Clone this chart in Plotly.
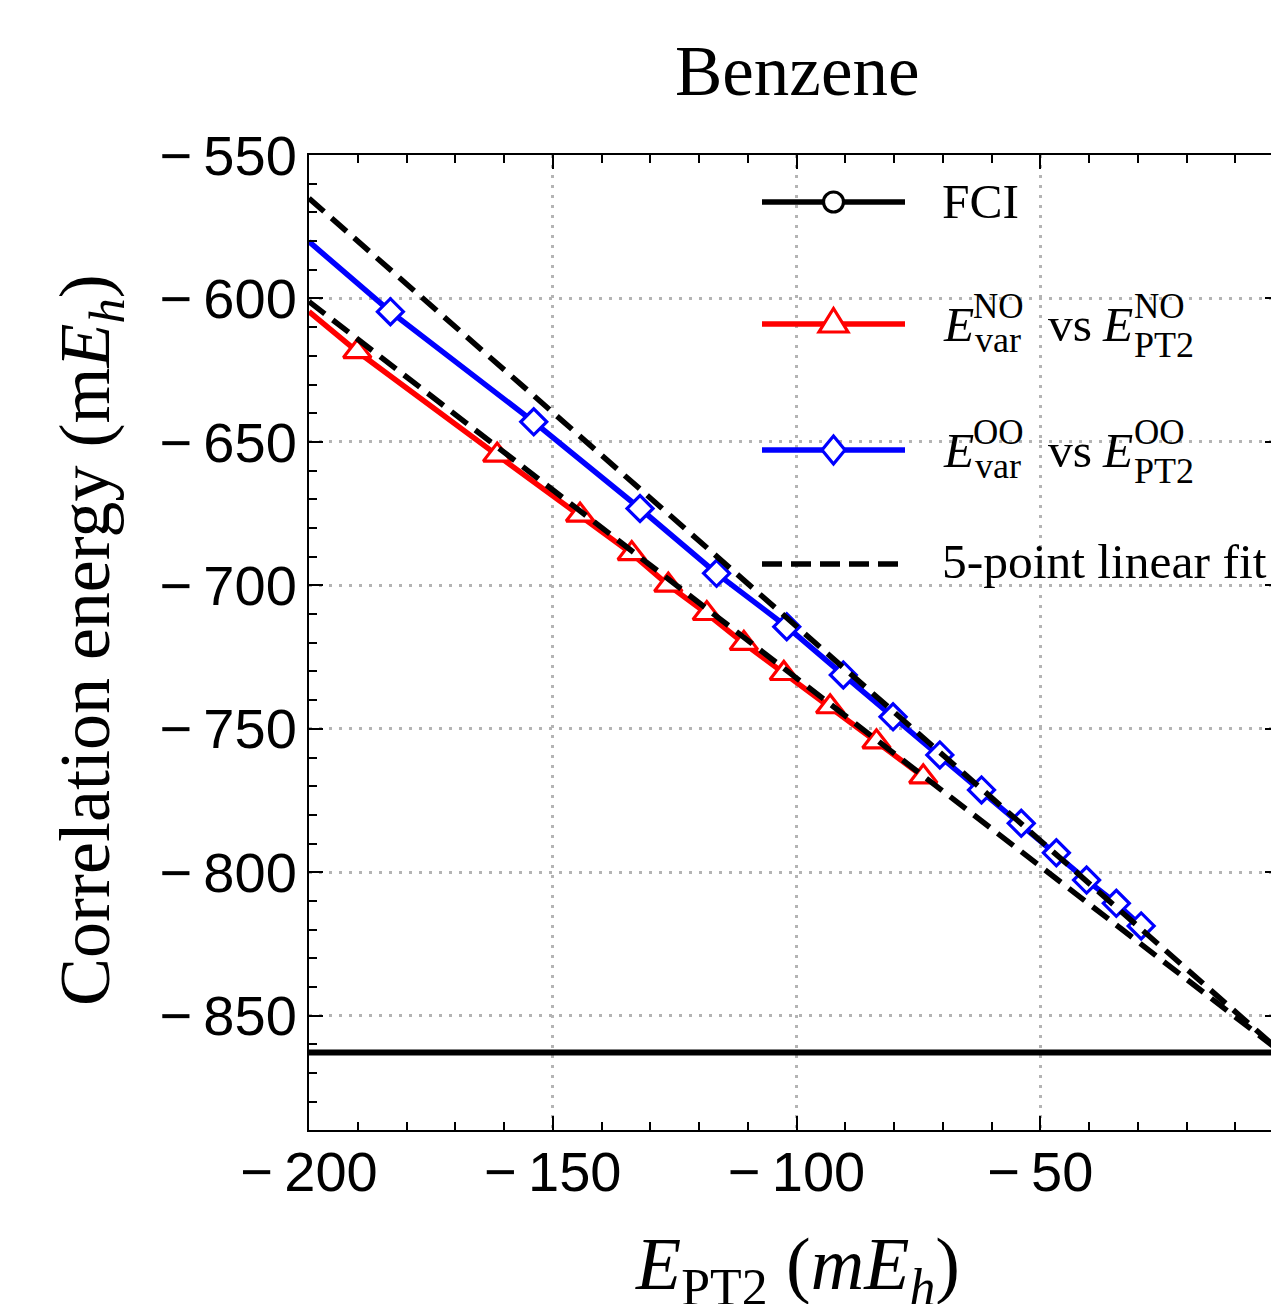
import plotly.graph_objects as go

# ---------------- data ----------------
# E_var^NO vs E_PT2^NO  (first entry = where the line enters the frame at x=-200)
no_x = [-200.0, -190.1, -161.4, -144.4, -133.8, -126.3, -118.4, -110.8, -102.6, -93.1, -83.6, -74.0]
no_y = [-604.6, -618.5, -654.6, -675.5, -688.9, -699.9, -709.8, -720.2, -730.7, -742.3, -754.5, -766.7]

# E_var^OO vs E_PT2^OO
oo_x = [-200.0, -183.3, -153.9, -132.1, -116.4, -102.0, -90.4, -80.2, -70.6, -62.05, -53.9, -46.7, -40.5, -34.4, -29.3]
oo_y = [-580.2, -604.6, -643.0, -673.2, -695.8, -714.4, -731.2, -745.8, -759.1, -771.3, -782.9, -793.2, -802.7, -810.8, -818.7]

# 5-point linear fits (end points)
fit_x = [-200.0, 0.0]
fit_no_y = [-601.1, -863.5]
fit_oo_y = [-565.1, -863.5]

# FCI reference energy
fci_x = [-200.0, 0.0]
fci_y = [-862.8, -862.8]

x_tick_vals = [-200, -150, -100, -50]
x_tick_text = ["\u2212\u2009200", "\u2212\u2009150", "\u2212\u2009100", "\u2212\u200950"]
x_edge_tick_text = "0"
y_tick_vals = [-850, -800, -750, -700, -650, -600, -550]
y_tick_text = ["\u2212\u2009850", "\u2212\u2009800", "\u2212\u2009750", "\u2212\u2009700",
               "\u2212\u2009650", "\u2212\u2009600", "\u2212\u2009550"]

# ---------------- layout geometry ----------------
OFF = 8                                 # page body margin
W, H = 1279 - OFF, 1312 - 2 * OFF       # keep the page inside the window
L, R, T, B = 301, W, 147, 1122          # plot area in figure pixels (right edge = window edge)
X_RANGE = [-200, -1.03]                 # the frame is cropped just before x = 0


def px(xs):  # screen x -> paper
    return (xs - OFF - L) / (R - L)


def py(ys):  # screen y -> paper
    return (B - (ys - OFF)) / (B - T)


SERIF = "Liberation Serif, Times New Roman, serif"
SANS = "Liberation Sans, Arial, sans-serif"

fig = go.Figure()

fig.add_trace(go.Scatter(
    x=no_x, y=no_y, mode="lines+markers",
    line=dict(color="#ff0000", width=5.5),
    marker=dict(symbol="triangle-up", size=24, color="white",
                opacity=[0] + [1] * (len(no_x) - 1),
                line=dict(color="#ff0000", width=3.2)),
    showlegend=False))

fig.add_trace(go.Scatter(
    x=oo_x, y=oo_y, mode="lines+markers",
    line=dict(color="#0000ff", width=5.5),
    marker=dict(symbol="diamond", size=20, color="white",
                opacity=[0] + [1] * (len(oo_x) - 1),
                line=dict(color="#0000ff", width=3.2)),
    showlegend=False))

for fy in (fit_no_y, fit_oo_y):
    fig.add_trace(go.Scatter(
        x=fit_x, y=fy, mode="lines",
        line=dict(color="black", width=5.5, dash="20px,10px"),
        showlegend=False))

fig.add_trace(go.Scatter(
    x=fci_x, y=fci_y, mode="lines",
    line=dict(color="black", width=6),
    showlegend=False))

# ---------------- manual legend ----------------
shapes = []
annotations = []

rows = [202, 324, 450, 564]
lx0, lx1, mx = 762, 905, 833.5
shapes.append(dict(type="line", xref="paper", yref="paper", x0=px(lx0), x1=px(lx1),
                   y0=py(rows[0]), y1=py(rows[0]), line=dict(color="black", width=5.5)))
shapes.append(dict(type="circle", xref="paper", yref="paper", xsizemode="pixel", ysizemode="pixel",
                   xanchor=px(mx), yanchor=py(rows[0]), x0=-10, x1=10, y0=-10, y1=10,
                   fillcolor="white", line=dict(color="black", width=3.2)))
shapes.append(dict(type="line", xref="paper", yref="paper", x0=px(lx0), x1=px(lx1),
                   y0=py(rows[1]), y1=py(rows[1]), line=dict(color="#ff0000", width=5.5)))
shapes.append(dict(type="path", xref="paper", yref="paper", xsizemode="pixel", ysizemode="pixel",
                   xanchor=px(mx), yanchor=py(rows[1]), path="M -14.5 -8 L 14.5 -8 L 0 15.5 Z",
                   fillcolor="white", line=dict(color="#ff0000", width=3.2)))
shapes.append(dict(type="line", xref="paper", yref="paper", x0=px(lx0), x1=px(lx1),
                   y0=py(rows[2]), y1=py(rows[2]), line=dict(color="#0000ff", width=5.5)))
shapes.append(dict(type="path", xref="paper", yref="paper", xsizemode="pixel", ysizemode="pixel",
                   xanchor=px(mx), yanchor=py(rows[2]), path="M 0 14 L 11.5 0 L 0 -14 L -11.5 0 Z",
                   fillcolor="white", line=dict(color="#0000ff", width=3.2)))
shapes.append(dict(type="line", xref="paper", yref="paper", x0=px(lx0), x1=px(898),
                   y0=py(rows[3]), y1=py(rows[3]), line=dict(color="black", width=5.5, dash="20px,9px")))


def txt(x, baseline, text, size, anchor="left", family=SERIF, angle=0):
    cy = baseline - 0.3375 * size
    annotations.append(dict(x=px(x), y=py(cy), xref="paper", yref="paper", text=text,
                            showarrow=False, xanchor=anchor, yanchor="middle",
                            font=dict(family=family, size=size, color="black"),
                            textangle=angle, borderpad=0))


FS = 49.5
txt(941, 218.5, "FCI", FS)
for dy, lab in ((0, "NO"), (126, "OO")):
    txt(942, 341.7 + dy, "<i>E</i>", FS)
    txt(972, 318.5 + dy, lab, 35)
    txt(974, 352 + dy, "var", 36)
    txt(1047, 341.7 + dy, "vs", FS)
    txt(1101, 341.7 + dy, "<i>E</i>", FS)
    txt(1133, 318.5 + dy, lab, 35)
    txt(1133, 357 + dy, "PT2", 36)
txt(941, 578, "5-point linear fit", FS)

# title
txt(796.5, 95, "Benzene", 71, anchor="center")

# x-axis title
annotations.append(dict(x=px(797), y=py(1269), xref="paper", yref="paper",
                        text="<i>E</i><sub>PT2</sub> (<i>mE</i><sub><i>h</i></sub>)",
                        showarrow=False, xanchor="center", yanchor="middle",
                        font=dict(family=SERIF, size=74, color="black")))
# y-axis title
annotations.append(dict(x=px(90), y=py(640), xref="paper", yref="paper",
                        text="Correlation energy (m<i>E</i><sub><i>h</i></sub>)",
                        showarrow=False, xanchor="center", yanchor="middle", textangle=-90,
                        font=dict(family=SERIF, size=72, color="black")))
# tick label "0" at the cropped right edge (only its left part is visible)
annotations.append(dict(x=px(1268), y=py(1173.6), xref="paper", yref="paper",
                        text=x_edge_tick_text, showarrow=False, xanchor="left", yanchor="middle",
                        font=dict(family=SANS, size=56, color="black"), borderpad=0))

axis_common = dict(
    showline=True, linecolor="black", linewidth=2, mirror="ticks",
    ticks="inside", ticklen=14, tickwidth=1.5, tickcolor="black",
    showgrid=True, gridcolor="#b4b4b4", gridwidth=2.5, griddash="3px,7px",
    zeroline=False, tickfont=dict(family=SANS, size=56, color="black"),
    automargin=False,
)

fig.update_layout(
    width=W, height=H,
    margin=dict(l=L, r=W - R, t=T, b=H - B, pad=0),
    paper_bgcolor="white", plot_bgcolor="white",
    xaxis=dict(range=X_RANGE, tickmode="array", tickvals=x_tick_vals, ticktext=x_tick_text,
               minor=dict(dtick=10, tick0=0, ticks="inside", ticklen=8, tickwidth=1.5,
                          tickcolor="black", showgrid=False),
               ticklabelstandoff=-8, **axis_common),
    yaxis=dict(range=[-889.8, -550], tickmode="array", tickvals=y_tick_vals, ticktext=y_tick_text,
               minor=dict(dtick=10, tick0=0, ticks="inside", ticklen=8, tickwidth=1.5,
                          tickcolor="black", showgrid=False),
               ticklabelstandoff=-1, **axis_common),
    shapes=shapes, annotations=annotations,
    showlegend=False,
)

fig.write_html("out.html", config={"displayModeBar": False})
